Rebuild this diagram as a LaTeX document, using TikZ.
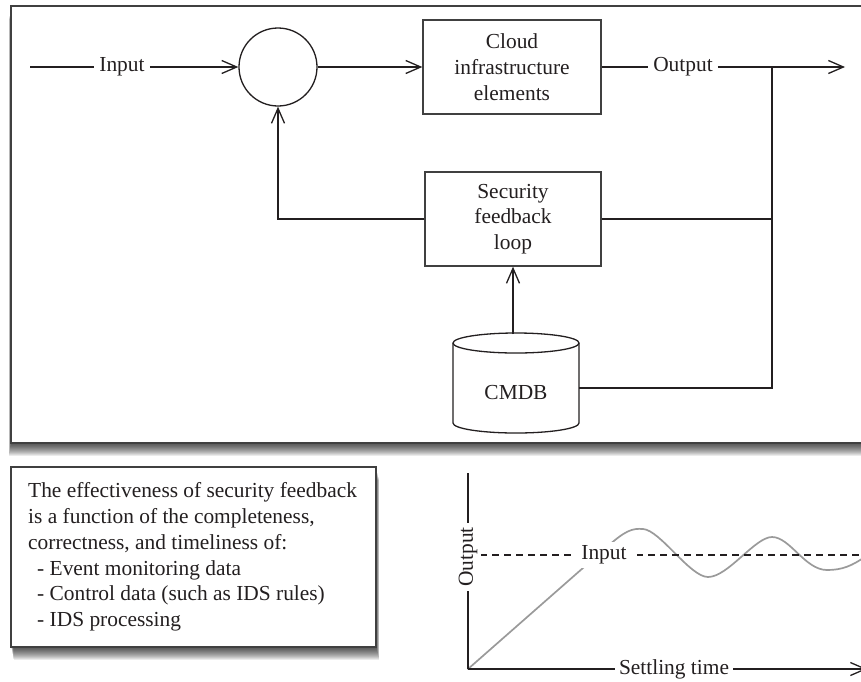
\documentclass[tikz,border=0pt]{standalone}
\usepackage{fontspec}
\setmainfont{Liberation Serif}
\usetikzlibrary{arrows.meta,calc}
\definecolor{ink}{HTML}{231F20}
\definecolor{framec}{HTML}{404040}
\definecolor{wavec}{HTML}{9A9A9A}
\begin{document}
\begin{tikzpicture}[x=1pt,y=-1pt,
  every node/.style={font=\fontsize{21.4}{25.7}\selectfont, text=ink},
  box/.style={draw=framec, line width=1.3pt, fill=white, align=center, inner sep=0pt},
  lbl/.style={inner sep=5pt},
  lblw/.style={fill=white, inner sep=4pt},
  flowl/.style={draw=ink, line width=1.8pt},
  branch/.style={draw=ink, line width=1.2pt},
  tip/.style={-{Straight Barb[length=15pt,width=13pt,line width=1.3pt]}}]
\clip (0,0) rectangle (861,681);
% main frame with shadow
\foreach \k in {1,...,13}{\fill[black,opacity=0.08] ({11-\k/6},{6+\k}) rectangle (880,{443+\k});}
\draw[draw=framec, line width=1.5pt, fill=white] (11,6) rectangle (880,443);
% note box with shadow
\foreach \k in {1,...,13}{\fill[black,opacity=0.08] ({11+\k/5},{467+\k}) rectangle ({376+\k/4},{647+\k});}
\node[draw=framec, line width=1.5pt, fill=white, minimum width=365pt, minimum height=180pt, inner sep=0pt] (note) at (193.5,557) {};
\node[anchor=west, inner sep=0pt, align=left] (notetext) at (28,557) {The effectiveness of security feedback\\is a function of the completeness,\\correctness, and timeliness of:\\\hspace*{9pt}- Event monitoring data\\\hspace*{9pt}- Control data (such as IDS rules)\\\hspace*{9pt}- IDS processing};
% top diagram
\coordinate (inS) at (30,67);
\node[lbl] (inLbl) at (122,67) {Input};
\node[circle, draw=ink, line width=1.3pt, minimum size=78pt, inner sep=0pt] (sum) at (278,67) {};
\node[box, minimum width=178pt, minimum height=94pt] (cloud) at (512,67) {Cloud\\infrastructure\\elements};
\node[lbl] (outLbl) at (683,67) {Output};
\coordinate (outE) at (845,67);
\coordinate (tap) at (772,67);
\node[box, minimum width=176pt, minimum height=94pt] (sec) at (513,219) {Security\\feedback\\loop};
% CMDB cylinder
\path[draw=ink, line width=1.3pt, fill=white] (453,343) -- (453,423) arc[start angle=180,end angle=0,x radius=63,y radius=10] -- (579,343) arc[start angle=0,end angle=-180,x radius=63,y radius=10] -- cycle;
\draw[ink, line width=1.3pt] (453,343) arc[start angle=180,end angle=0,x radius=63,y radius=10];
\node (cmdbLbl) at (516,393) {CMDB};
\coordinate (cmdbTop) at (513,334);
\coordinate (cmdbR) at (579,388);
% connectors
\draw[flowl] (inS) -- (inLbl);
\draw[flowl, tip] (inLbl) -- (sum);
\draw[flowl, tip] (sum) -- (cloud);
\draw[flowl] (cloud) -- (outLbl);
\draw[flowl, tip] (outLbl) -- (outE);
\draw[branch] (tap) |- (cmdbR);
\draw[branch] (sec.east) -- (sec.east -| tap);
\draw[branch, tip] (sec.west) -| (sum.south);
\draw[flowl, tip] (cmdbTop) -- (sec.south);
% graph
\coordinate (orig) at (468,669);
\coordinate (ytop) at (468,473);
\coordinate (xend) at (867,669);
\coordinate (dashS) at (468,555);
\coordinate (dashE) at (861,555);
\draw[wavec, line width=1.7pt, line cap=round] (orig) -- (608,546) .. controls (625,531) and (632,528) .. (643,529) .. controls (660,530) and (690,577) .. (708,577) .. controls (728,577) and (755,537) .. (772,537) .. controls (790,537) and (805,570) .. (827,570) .. controls (842,570) and (852,566) .. (866,556);
\draw[ink, line width=1.2pt, dash pattern=on 7pt off 5pt] (dashS) -- (dashE);
\draw[ink, line width=1.5pt] (ytop) -- (orig);
\draw[ink, line width=1.5pt, tip] (orig) -- (xend);
\node[lblw, inner xsep=10pt] (inLbl2) at (604,555) {Input};
\node[lblw, rotate=90] (yLbl) at (468,557) {Output};
\node[lblw] (xLbl) at (674,669) {Settling time};
\end{tikzpicture}
\end{document}
